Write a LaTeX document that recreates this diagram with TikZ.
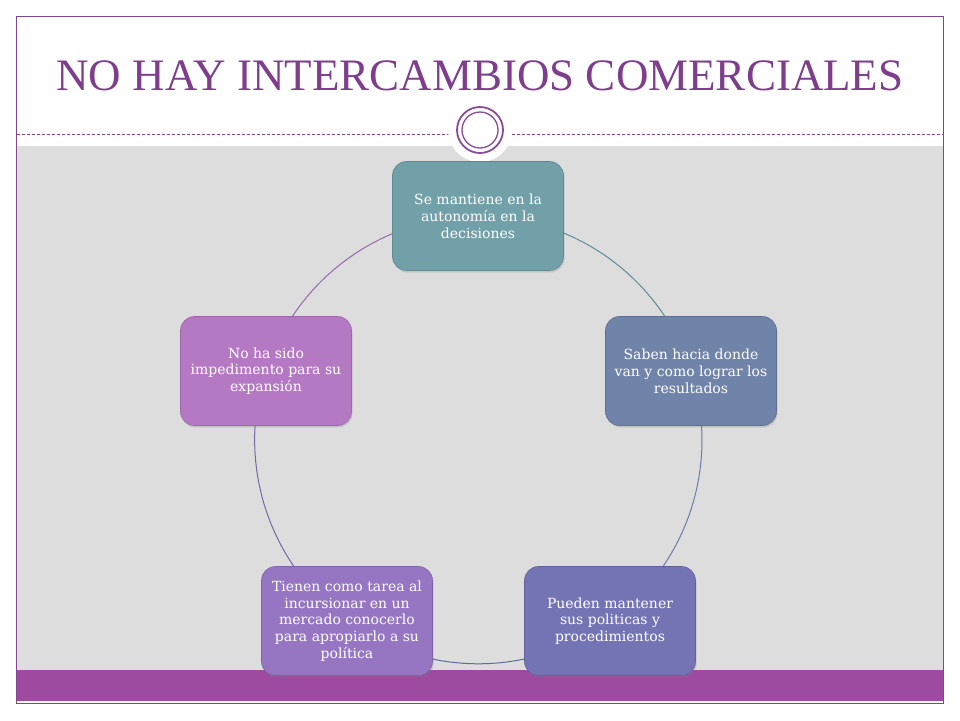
\documentclass[tikz,border=0pt]{standalone}
\usepackage{fontspec}
\setmainfont{Liberation Serif}
\newfontfamily\boxfont{DejaVu Serif}
\usetikzlibrary{shadows}
\pgfdeclarelayer{background}
\pgfsetlayers{background,main}
\definecolor{frame}{RGB}{127,70,140}
\definecolor{titlec}{RGB}{126,62,140}
\definecolor{graybg}{RGB}{221,221,221}
\definecolor{barc}{RGB}{158,74,160}
\definecolor{ringc}{RGB}{138,74,154}
\definecolor{bA}{RGB}{114,160,169}
\definecolor{bB}{RGB}{112,131,168}
\definecolor{bC}{RGB}{116,116,180}
\definecolor{bD}{RGB}{150,118,194}
\definecolor{bE}{RGB}{181,121,196}
\definecolor{aA}{RGB}{94,140,152}
\definecolor{aB}{RGB}{104,126,166}
\definecolor{aC}{RGB}{92,108,156}
\definecolor{aD}{RGB}{118,104,164}
\definecolor{aE}{RGB}{150,104,172}
\tikzset{
  cyclebox/.style={draw=#1!85!black, line width=0.6pt, fill=#1, rounded corners=14pt,
    minimum width=171pt, minimum height=109pt, inner sep=0pt, align=center,
    text=white, font=\boxfont\fontsize{14}{16.8}\selectfont,
    drop shadow={opacity=0.25, shadow xshift=1pt, shadow yshift=-2pt}},
  cyclearc/.style={draw=#1, line width=1pt}
}
\begin{document}
\begin{tikzpicture}[x=1pt,y=-1pt]
\useasboundingbox (0,0) rectangle (960,720);
% nodes
\node[font=\fontsize{45}{50}\selectfont, text=titlec] (title) at (480,76) {NO HAY INTERCAMBIOS COMERCIALES};
\node[cyclebox=bA] (t) at (478,216) {Se mantiene en la\\autonomía en la\\decisiones};
\node[cyclebox=bB] (r) at (691,371) {Saben hacia donde\\van y como lograr los\\resultados};
\node[cyclebox=bC] (br) at (610,621) {Pueden mantener\\sus politicas y\\procedimientos};
\node[cyclebox=bD] (bl) at (347,621) {Tienen como tarea al\\incursionar en un\\mercado conocerlo\\para  apropiarlo a su\\política};
\node[cyclebox=bE] (l) at (266,371) {No ha sido\\impedimento para su\\expansión};
\begin{pgfonlayer}{background}
  \fill[white] (0,0) rectangle (960,720);
  \fill[graybg] (17,146) rectangle (943,670);
  \fill[barc] (17,670) rectangle (943,701);
  \draw[frame, line width=0.8pt, dash pattern=on 3pt off 2pt] (17,134) -- (943,134);
  \fill[white] (480,130) circle[radius=32pt];
  \draw[ringc, line width=1.8pt] (480,130) circle[radius=23pt];
  \draw[ringc, line width=1.3pt] (480,130) circle[radius=18pt];
  \draw[frame, line width=1pt] (16,16) rectangle (943,703);
  \draw[cyclearc=aA] (t.center) arc[start angle=90, end angle=18, radius=224pt];
  \draw[cyclearc=aB] (r.center) arc[start angle=18, end angle=-54, radius=224pt];
  \draw[cyclearc=aC] (br.center) arc[start angle=-54, end angle=-126, radius=224pt];
  \draw[cyclearc=aD] (bl.center) arc[start angle=-126, end angle=-198, radius=224pt];
  \draw[cyclearc=aE] (l.center) arc[start angle=162, end angle=90, radius=224pt];
\end{pgfonlayer}
\end{tikzpicture}
\end{document}
